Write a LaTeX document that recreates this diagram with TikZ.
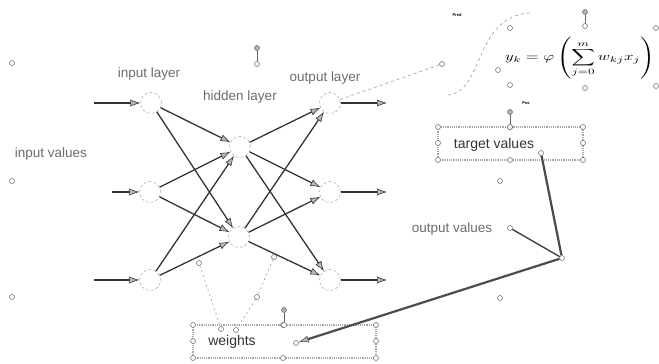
\documentclass[tikz,border=0pt]{standalone}
\usepackage{fontspec}
\setmainfont{Liberation Sans}
\usetikzlibrary{arrows.meta}
\begin{document}
\begin{tikzpicture}[x=1pt,y=-1pt,
  neuron/.style={circle,draw=gray!80,densely dashed,thin,minimum size=21pt,inner sep=0pt},
  edge/.style={draw=black!80,line width=1.3pt,-{Latex[length=10pt,width=7pt,fill=gray!55,line width=0.6pt]}},
  lbl/.style={text=gray!85!black,font=\fontsize{13.5}{15}\selectfont,inner sep=0pt},
  boxtxt/.style={text=black!80,font=\fontsize{14}{16}\selectfont,inner sep=0pt},
  handle/.style={circle,draw=gray!80!black,fill=white,inner sep=0pt,minimum size=5pt,line width=0.5pt},
  grip/.style={circle,draw=gray!80!black,fill=gray!60,inner sep=0pt,minimum size=5pt,line width=0.5pt},
  selbox/.style={draw=gray!70,densely dotted,line width=1.2pt},
  thick/.style={draw=black!70,line width=2.2pt},
  guide/.style={draw=gray!80,dashed,line width=0.6pt},
  tiny/.style={font=\fontsize{4}{5}\selectfont\bfseries,inner sep=0pt}
]
\useasboundingbox (0,0) rectangle (659,364);
\clip (0,0) rectangle (659,364);

% neurons
\node[neuron] (i1) at (151,103) {};
\node[neuron] (i2) at (150,192) {};
\node[neuron] (i3) at (150,280) {};
\node[neuron] (h1) at (240,147) {};
\node[neuron] (h2) at (239,237) {};
\node[neuron] (o1) at (330,103) {};
\node[neuron] (o2) at (330,192) {};
\node[neuron] (o3) at (330,280) {};

% input / output arrow ends
\coordinate (a1) at (94,103);
\coordinate (a2) at (112,192);
\coordinate (a3) at (94,280);
\coordinate (b1) at (387,103);
\coordinate (b2) at (387,192);
\coordinate (b3) at (387,280);

\foreach \k in {1,2,3} {
  \draw[edge] (a\k) -- (i\k);
  \draw[edge] (o\k) -- (b\k);
}
\foreach \i in {1,2,3} \foreach \h in {1,2} \draw[edge] (i\i) -- (h\h);
\foreach \h in {1,2} \foreach \o in {1,2,3} \draw[edge] (h\h) -- (o\o);

% labels
\node[lbl] (linput) at (149,74) {input layer};
\node[lbl] (lhidden) at (240,97) {hidden layer};
\node[lbl] (loutput) at (325,78) {output layer};
\node[lbl] (linval) at (51,154) {input values};
\node[lbl] (loutval) at (452,229) {output values};

% label handle
\node[grip] (lh1) at (257,48) {};
\node[handle] (lh2) at (257,64) {};
\draw[gray!80!black,line width=0.6pt] (lh1) -- (lh2);

% stray handles
\node[handle] (s1) at (12,63) {};
\node[handle] (s2) at (12,181) {};
\node[handle] (s3) at (12,297) {};
\node[handle] (s4) at (500,181) {};
\node[handle] (s5) at (500,298) {};

% formula
\node[inner sep=0pt] (formula) at (580,58) {\scalebox{1.65}[1.17]{$\displaystyle y_k=\varphi\left(\sum_{j=0}^{m} w_{kj}x_j\right)$}};
\node[handle] (f1) at (510,28) {};
\node[handle] (f2) at (498,70) {};
\node[handle] (f3) at (510,85) {};
\node[grip] (f4) at (585,12) {};
\node[handle] (f5) at (585,26) {};
\node[handle] (f6) at (585,88) {};
\node[handle] (f7) at (656,28) {};
\node[handle] (f8) at (656,86) {};
\draw[gray!80!black,line width=0.6pt] (f4) -- (f5);
\node[tiny] (pred) at (457,15) {Pred};
\node[tiny] (pos) at (526,103) {Pos};

% S curve and dashed link
\draw[guide] (448,95) .. controls (484,92) and (474,16) .. (530,13);
\node[handle] (fc) at (442,64) {};
\draw[guide] (o1) -- (fc);

% target values box
\draw[selbox] (438,127) rectangle (583,160);
\node[boxtxt] (target) at (494,145) {target values};
\foreach \p in {(438,127),(510,127),(583,127),(438,143),(583,143),(438,160),(510,160),(583,160)} \node[handle] at \p {};
\node[grip] (th1) at (510,112) {};
\node[handle] (th2) at (510,127) {};
\draw[gray!80!black,line width=0.6pt] (th1) -- (th2);

% weights box
\draw[selbox] (193,325) rectangle (376,358);
\node[boxtxt] (weights) at (232,342) {weights};
\foreach \p in {(193,325),(283,325),(376,325),(193,341),(376,341),(193,358),(283,358),(376,358)} \node[handle] at \p {};
\node[grip] (wh1) at (284,310) {};
\node[handle] (wh2) at (284,325) {};
\draw[gray!80!black,line width=0.6pt] (wh1) -- (wh2);

% weight pointer guides
\node[handle] (w1) at (199,263) {};
\node[handle] (w2) at (221,329) {};
\node[handle] (w3) at (274,257) {};
\node[handle] (w4) at (257,297) {};
\node[handle] (w5) at (236,330) {};
\draw[guide,dash pattern=on 2pt off 3pt] (w1) -- (w2);
\draw[guide,dash pattern=on 2pt off 3pt] (w3) -- (w4) -- (w5);

% error connectors
\node[handle] (tv) at (541,153) {};
\node[handle] (ov) at (510,228) {};
\node[handle] (j) at (562,258) {};
\node[handle] (wt) at (296,343) {};
\draw[thick] (tv) -- (j);
\draw[draw=black!75,line width=1.4pt] (ov) -- (j);
\draw[thick,-{Latex[length=10pt,width=7pt,fill=gray!55,line width=0.6pt]}] (j) -- (wt);
\end{tikzpicture}
\end{document}
